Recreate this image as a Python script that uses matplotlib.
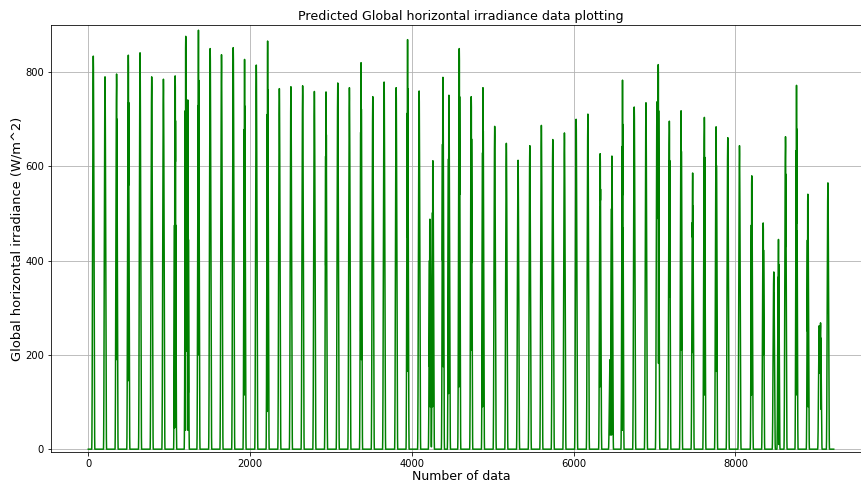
import numpy as np
import matplotlib
matplotlib.use("Agg")
import matplotlib.pyplot as plt

# ---- data ----
n_samples = 9216

# sample index of each daily peak
peak_index = [62, 207, 350, 495, 640, 784, 929, 1074, 1205, 1230,
              1362, 1507, 1647, 1792, 1932, 2077, 2217, 2362, 2505, 2650,
              2795, 2939, 3084, 3228, 3372, 3517, 3657, 3806, 3947, 4090,
              4223, 4260, 4384, 4458, 4586, 4734, 4879, 5024, 5168, 5313,
              5458, 5601, 5742, 5886, 6031, 6176, 6328, 6450, 6473, 6604,
              6749, 6894, 7030, 7046, 7183, 7328, 7471, 7616, 7761, 7905,
              8050, 8202, 8343, 8474, 8532, 8619, 8755, 8895, 9036, 9052,
              9143]

# irradiance at each peak (W/m^2)
peak_value = [834, 790, 796, 836, 841, 790, 785, 792, 876, 741,
              889, 850, 837, 852, 827, 815, 866, 765, 769, 771,
              759, 758, 777, 767, 820, 748, 779, 767, 869, 760,
              488, 612, 789, 751, 850, 748, 767, 685, 649, 613,
              644, 687, 657, 671, 700, 711, 627, 190, 622, 783,
              726, 735, 737, 816, 696, 718, 586, 704, 684, 661,
              644, 580, 480, 376, 445, 663, 772, 541, 262, 268,
              565]

# cloud dips inside each day's curve (W/m^2)
peak_dips = [[], [], [190], [560, 145, 500], [], [], [], [610, 190, 110, 45], [300, 40], [40, 420, 120],
             [200, 470], [], [], [], [245, 115], [], [380, 80], [], [], [],
             [], [600, 390], [], [], [190, 250, 600], [], [], [], [165, 450, 300], [],
             [90, 175], [175, 90], [175, 400], [535, 118], [540, 132], [395, 210], [360, 90], [], [], [],
             [], [], [], [], [], [], [528, 132], [30], [150, 30], [540, 40, 300],
             [], [], [], [182, 500], [323], [210], [205, 450], [115], [165, 600], [],
             [], [486, 115], [200, 350], [230], [10, 200], [430], [480, 115, 300], [90, 250], [185], [85],
             [290]]

# normalised shape of one daylight curve (samples before peak, peak, samples after)
day_rise = [0.01, 0.03, 0.06, 0.10, 0.15, 0.21, 0.28, 0.36, 0.44, 0.52,
            0.60, 0.68, 0.75, 0.82, 0.88, 0.93, 0.97, 0.99]
day_fall = [0.99, 0.97, 0.93, 0.88, 0.82, 0.75, 0.68, 0.60, 0.52, 0.44,
            0.36, 0.28, 0.21, 0.15, 0.10, 0.06, 0.03, 0.01]
dip_offsets = [3, -4, 7, -7, 10]

# ---- build the series ----
shape = np.array(day_rise + [1.0] + day_fall)
start_off = -len(day_rise)
ghi = np.zeros(n_samples)
for idx, val, dips in zip(peak_index, peak_value, peak_dips):
    seg = val * shape
    for d, off in zip(dips, dip_offsets):
        j = off - start_off
        seg[j] = min(seg[j], d)
    lo = idx + start_off
    for k, v in enumerate(seg):
        p = lo + k
        if 0 <= p < n_samples:
            ghi[p] = max(ghi[p], v)

x = np.arange(n_samples)

# ---- plot ----
W, H = 861, 484
fig = plt.figure(figsize=(W / 72, H / 72), dpi=72)
ax = fig.add_axes([51 / W, 32 / H, 820 / W, 427 / H])
ax.plot(x, ghi, color="green", linewidth=1.5)
ax.set_ylim(-6, 900)
ax.set_xticks([0, 2000, 4000, 6000, 8000])
ax.set_yticks([0, 200, 400, 600, 800])
ax.grid(True, color="#b0b0b0", linewidth=0.8)
ax.set_title("Predicted Global horizontal irradiance data plotting", fontsize=12.6, pad=5)
ax.set_xlabel("Number of data", fontsize=12.5, labelpad=1)
ax.set_ylabel("Global horizontal irradiance (W/m^2)", fontsize=13, labelpad=2)
ax.tick_params(labelsize=10)
fig.savefig("out.png", dpi=72)
